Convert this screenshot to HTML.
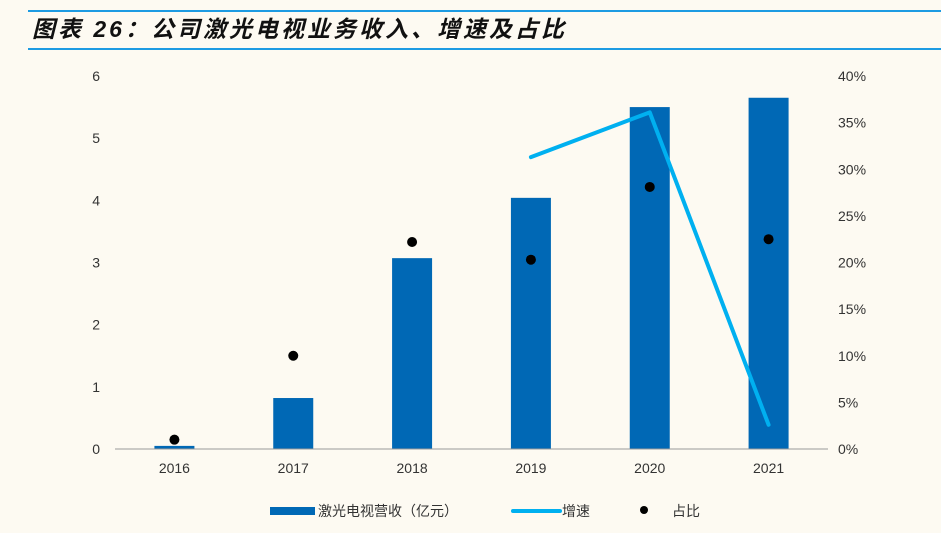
<!DOCTYPE html>
<html><head><meta charset="utf-8"><style>
body{margin:0;background:#fdfaf2;width:941px;height:528px;overflow:hidden;font-family:"Liberation Sans","Noto Sans CJK SC",sans-serif}
svg text{font-family:"Liberation Sans","Noto Sans CJK SC",sans-serif}
</style></head><body>
<svg width="941" height="528">
<rect x="0" y="0" width="941" height="528" fill="#fdfaf2"/>
<line x1="28" y1="11" x2="941" y2="11" stroke="#1d9be2" stroke-width="2"/>
<line x1="28" y1="49" x2="941" y2="49" stroke="#1d9be2" stroke-width="2"/>
<text x="32" y="37" font-size="23" letter-spacing="3" font-weight="bold" font-style="italic" fill="#111">图表 26：公司激光电视业务收入、增速及占比</text>
<g id="plot"></g>
<g>
<rect x="270" y="507" width="45" height="8" fill="#0068b5"/>
<text x="318" y="516" font-size="14" fill="#333">激光电视营收（亿元）</text>
<line x1="513" y1="511" x2="560" y2="511" stroke="#00b0f0" stroke-width="4" stroke-linecap="round"/>
<text x="562" y="516" font-size="14" fill="#333">增速</text>
<circle cx="644" cy="510" r="4" fill="#000"/>
<text x="672" y="516" font-size="14" fill="#333">占比</text>
</g>
</svg>
<script>
const categories=["2016","2017","2018","2019","2020","2021"];
const revenue=[0.05,0.82,3.07,4.04,5.5,5.65];
const growthYears=["2019","2020","2021"];
const growth=[31.3,36.1,2.6];
const share=[1.0,10.0,22.2,20.3,28.1,22.5];
const leftTicks=[0,1,2,3,4,5,6];
const rightTicks=[0,5,10,15,20,25,30,35,40];
const NS="http://www.w3.org/2000/svg";
const g=document.getElementById("plot");
const x0=115,x1=828,yb=449,yt=76;
const step=(x1-x0)/categories.length;
const xc=i=>x0+step*(i+0.5);
const yL=v=>yb-(v/6)*(yb-yt);
const yR=v=>yb-(v/40)*(yb-yt);
function mk(t,a){const e=document.createElementNS(NS,t);for(const k in a)e.setAttribute(k,a[k]);g.appendChild(e);return e;}
let e;
leftTicks.forEach(v=>{e=mk("text",{x:100,y:yL(v)+5,"font-size":14,fill:"#333","text-anchor":"end"});e.textContent=v;

});
rightTicks.forEach(v=>{e=mk("text",{x:838,y:yR(v)+5,"font-size":14,fill:"#333"});e.textContent=v+"%";

});
revenue.forEach((v,i)=>{e=mk("rect",{x:xc(i)-20,y:yL(v),width:40,height:yb-yL(v),fill:"#0068b5"});

});
e=mk("line",{x1:x0,y1:yb,x2:x1,y2:yb,stroke:"#999","stroke-width":1});


categories.forEach((c,i)=>{e=mk("text",{x:xc(i),y:473,"font-size":14,fill:"#333","text-anchor":"middle"});e.textContent=c;

});
const pts=growth.map((v,j)=>{const i=categories.indexOf(growthYears[j]);return xc(i)+","+yR(v);}).join(" ");
e=mk("polyline",{points:pts,fill:"none",stroke:"#00b0f0","stroke-width":4,"stroke-linejoin":"round","stroke-linecap":"round"});


share.forEach((v,i)=>{e=mk("circle",{cx:xc(i),cy:yR(v),r:5,fill:"#000"});

});
</script>
</body></html>
